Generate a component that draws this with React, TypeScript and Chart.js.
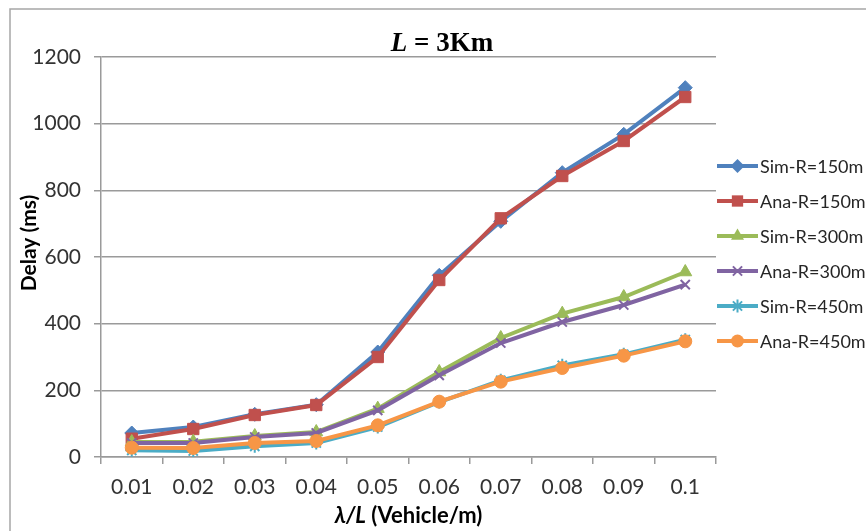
import React, { useEffect, useRef } from "react";
import { Chart, registerables } from "chart.js";

Chart.register(...registerables);

const categories = ["0.01", "0.02", "0.03", "0.04", "0.05", "0.06", "0.07", "0.08", "0.09", "0.1"];
const seriesNames = ["Sim-R=150m", "Ana-R=150m", "Sim-R=300m", "Ana-R=300m", "Sim-R=450m", "Ana-R=450m"];
const sim150 = [72, 90, 128, 157, 315, 545, 707, 853, 968, 1108];
const ana150 = [55, 84, 126, 156, 300, 531, 716, 843, 948, 1080];
const sim300 = [45, 46, 63, 75, 145, 255, 357, 430, 480, 555];
const ana300 = [42, 42, 60, 72, 140, 245, 342, 405, 456, 517];
const sim450 = [20, 18, 32, 42, 90, 165, 230, 275, 308, 352];
const ana450 = [28, 27, 42, 48, 95, 166, 226, 267, 304, 347];
const yTicks = [0, 200, 400, 600, 800, 1000, 1200];

const colors = ["#4F81BD", "#C0504D", "#9BBB59", "#8064A2", "#4BACC6", "#F79646"];
const pointStyles = ["rectRot", "rect", "triangle", "crossRot", "star", "circle"];
const pointRadii = [7, 8, 7.5, 6.5, 6.5, 6.5];
const allSeries = [sim150, ana150, sim300, ana300, sim450, ana450];

const SANS = "Lato, 'Open Sans', sans-serif";

function drawMarker(ctx: CanvasRenderingContext2D, style: string, x: number, y: number, r: number, color: string) {
  ctx.save();
  ctx.fillStyle = color;
  ctx.strokeStyle = color;
  ctx.lineWidth = 2;
  ctx.beginPath();
  if (style === "rectRot") {
    ctx.moveTo(x, y - r); ctx.lineTo(x + r, y); ctx.lineTo(x, y + r); ctx.lineTo(x - r, y); ctx.closePath(); ctx.fill();
  } else if (style === "rect") {
    const s = r * Math.SQRT1_2;
    ctx.rect(x - s, y - s, 2 * s, 2 * s); ctx.fill();
  } else if (style === "triangle") {
    ctx.moveTo(x, y - r); ctx.lineTo(x + r * 0.866, y + r * 0.5); ctx.lineTo(x - r * 0.866, y + r * 0.5); ctx.closePath(); ctx.fill();
  } else if (style === "crossRot") {
    const s = r * Math.SQRT1_2;
    ctx.moveTo(x - s, y - s); ctx.lineTo(x + s, y + s); ctx.moveTo(x + s, y - s); ctx.lineTo(x - s, y + s); ctx.stroke();
  } else if (style === "star") {
    const s = r * Math.SQRT1_2;
    ctx.moveTo(x - s, y - s); ctx.lineTo(x + s, y + s); ctx.moveTo(x + s, y - s); ctx.lineTo(x - s, y + s);
    ctx.moveTo(x, y - r); ctx.lineTo(x, y + r); ctx.moveTo(x - r, y); ctx.lineTo(x + r, y); ctx.stroke();
  } else {
    ctx.arc(x, y, r, 0, Math.PI * 2); ctx.fill();
  }
  ctx.restore();
}

const decorPlugin = {
  id: "decor",
  beforeDraw(chart: any) {
    const ctx = chart.ctx as CanvasRenderingContext2D;
    ctx.save();
    ctx.fillStyle = "#ffffff";
    ctx.fillRect(0, 0, chart.width, chart.height);
    ctx.strokeStyle = "#a6a6a6";
    ctx.lineWidth = 1.5;
    ctx.beginPath();
    ctx.moveTo(10, chart.height);
    ctx.lineTo(10, 9);
    ctx.lineTo(chart.width, 9);
    ctx.stroke();
    ctx.restore();
  },
  afterDraw(chart: any) {
    const ctx = chart.ctx as CanvasRenderingContext2D;
    ctx.save();
    // Title
    const tFontI = "italic bold 27px 'Liberation Serif', 'Times New Roman', serif";
    const tFontB = "bold 27px 'Liberation Serif', 'Times New Roman', serif";
    ctx.fillStyle = "#000";
    ctx.textBaseline = "alphabetic";
    ctx.textAlign = "left";
    ctx.font = tFontI;
    const wL = ctx.measureText("L").width;
    ctx.font = tFontB;
    const wRest = ctx.measureText(" = 3Km").width;
    const tx = 442 - (wL + wRest) / 2;
    ctx.font = tFontI;
    ctx.fillText("L", tx, 51);
    ctx.font = tFontB;
    ctx.fillText(" = 3Km", tx + wL, 51);

    // Y axis title
    ctx.save();
    ctx.translate(29, 243);
    ctx.rotate(-Math.PI / 2);
    ctx.font = `bold 21px ${SANS}`;
    ctx.textAlign = "center";
    ctx.textBaseline = "middle";
    ctx.fillStyle = "#000";
    ctx.fillText("Delay (ms)", 0, 0);
    ctx.restore();

    // X axis title
    const xFontI = `italic bold 22px ${SANS}`;
    const xFontB = `bold 22px ${SANS}`;
    ctx.font = xFontI;
    const w1 = ctx.measureText("λ/L").width;
    ctx.font = xFontB;
    const w2 = ctx.measureText(" (Vehicle/m)").width;
    const cx = (chart.chartArea.left + chart.chartArea.right) / 2;
    const xx = cx - (w1 + w2) / 2;
    ctx.textAlign = "left";
    ctx.textBaseline = "alphabetic";
    ctx.font = xFontI;
    ctx.fillText("λ/L", xx, 523);
    ctx.font = xFontB;
    ctx.fillText(" (Vehicle/m)", xx + w1, 523);

    // Legend
    ctx.font = `18px ${SANS}`;
    ctx.textBaseline = "middle";
    seriesNames.forEach((name, i) => {
      const y = 166 + i * 35;
      ctx.strokeStyle = colors[i];
      ctx.lineWidth = 4;
      ctx.beginPath();
      ctx.moveTo(717, y);
      ctx.lineTo(758, y);
      ctx.stroke();
      drawMarker(ctx, pointStyles[i], 737.5, y, pointRadii[i], colors[i]);
      ctx.fillStyle = "#262626";
      ctx.fillText(name, 760, y + 1);
    });
    ctx.restore();
  },
};

export default function App() {
  const ref = useRef<HTMLCanvasElement | null>(null);
  useEffect(() => {
    if (!ref.current) return;
    const chart = new Chart(ref.current, {
      type: "line",
      data: {
        labels: categories,
        datasets: allSeries.map((d, i) => ({
          label: seriesNames[i],
          data: d,
          borderColor: colors[i],
          backgroundColor: colors[i],
          borderWidth: 4,
          pointStyle: pointStyles[i] as any,
          pointRadius: pointRadii[i],
          pointBorderWidth: i === 3 || i === 4 ? 2 : 1,
          pointBorderColor: colors[i],
          pointBackgroundColor: colors[i],
          tension: 0,
          order: 5 - i,
        })),
      },
      options: {
        responsive: false,
        animation: false,
        layout: { padding: { left: 0, top: 57, right: 150, bottom: 0 } },
        plugins: { legend: { display: false }, title: { display: false }, tooltip: { enabled: false } },
        scales: {
          x: {
            type: "category",
            offset: true,
            grid: { offset: true, drawOnChartArea: false, drawTicks: true, tickLength: 7, color: "#9a9a9a", lineWidth: 1.5 },
            border: { color: "#9a9a9a", width: 1.5 },
            ticks: { font: { family: SANS, size: 21 }, color: "#333", padding: 11, maxRotation: 0, autoSkip: false },
            afterFit: (s: any) => { s.height = 74; },
          },
          y: {
            min: 0,
            max: 1200,
            afterBuildTicks: (s: any) => { s.ticks = yTicks.map((v) => ({ value: v })); },
            grid: { color: "#9a9a9a", lineWidth: 1.5, tickLength: 7, drawTicks: true },
            border: { color: "#9a9a9a", width: 1.5 },
            ticks: {
              font: { family: SANS, size: 21 },
              color: "#333",
              padding: 13,
              callback: (v: any) => String(v),
            },
            afterFit: (s: any) => { s.width = 101; },
          },
        },
      },
      plugins: [decorPlugin],
    });
    return () => chart.destroy();
  }, []);
  return (
    <div style={{ position: "absolute", left: 0, top: 0, width: 866, height: 531 }}>
      <canvas ref={ref} width={866} height={531} style={{ display: "block" }} />
    </div>
  );
}
